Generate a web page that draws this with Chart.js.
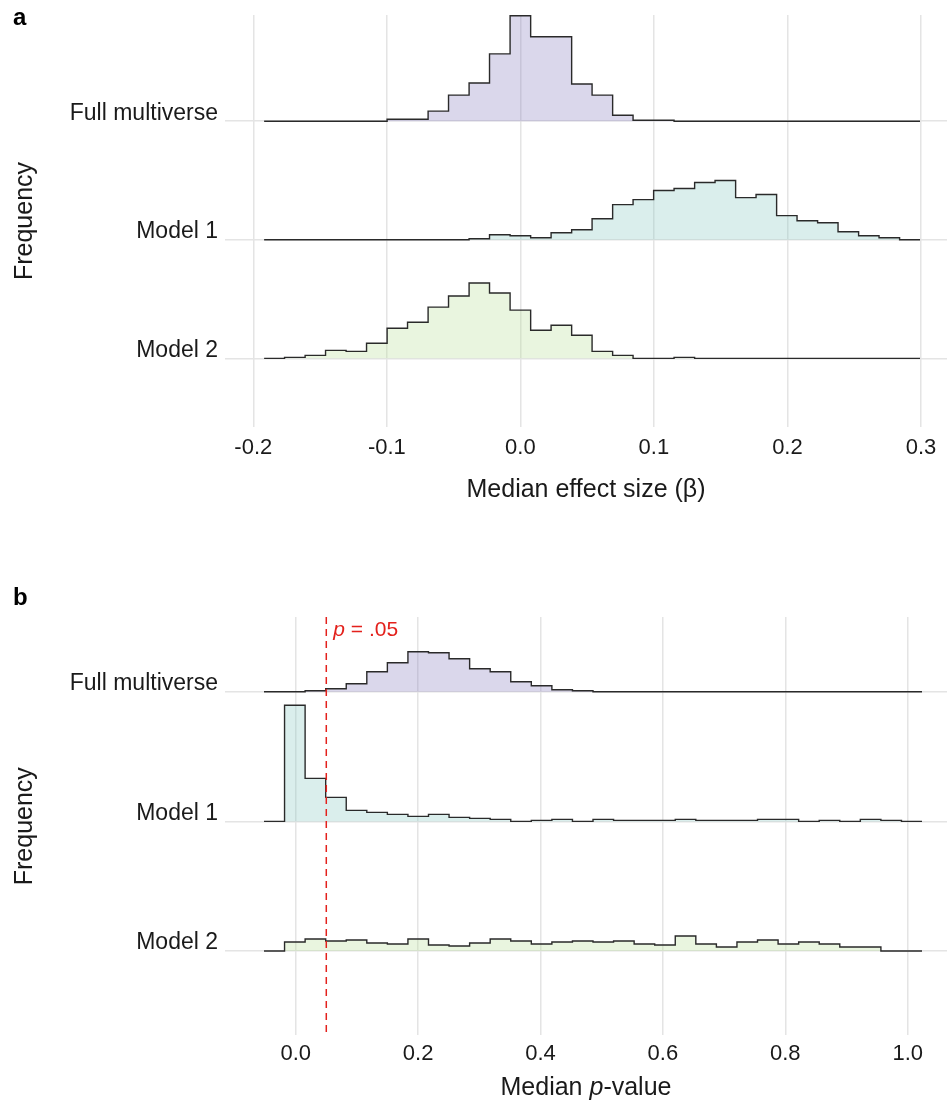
<!DOCTYPE html>
<html>
<head>
<meta charset="utf-8">
<script src="https://cdn.jsdelivr.net/npm/chart.js@4.4.1/dist/chart.umd.min.js"></script>
<style>
  html, body { margin: 0; padding: 0; background: #fff; }
  canvas { display: block; }
</style>
</head>
<body>
<canvas id="chart-a" width="947" height="530"></canvas>
<canvas id="chart-b" width="947" height="575"></canvas>
<script>
const groups = ['Full multiverse', 'Model 1', 'Model 2'];

// panel a - median effect size, bin edges + heights per group
const edgesA = [-0.1919, -0.1766, -0.1612, -0.1459, -0.1305, -0.1152, -0.0998, -0.0845,
  -0.0691, -0.0538, -0.0384, -0.0231, -0.0077, 0.0077, 0.0230, 0.0384, 0.0537, 0.0691,
  0.0844, 0.0998, 0.1151, 0.1305, 0.1458, 0.1612, 0.1765, 0.1919, 0.2072, 0.2226,
  0.2379, 0.2533, 0.2686, 0.2840, 0.2993];
const fullA = [0, 0, 0, 0, 0, 0, 2, 2, 10, 26, 38, 67, 105, 84, 84, 37, 26, 6, 1, 1, 0, 0, 0, 0, 0, 0, 0, 0, 0, 0, 0, 0];
const model1A = [0, 0, 0, 0, 0, 0, 0, 0, 0, 0, 1, 5, 4, 2, 7, 10, 21, 35, 40, 49, 51, 57, 59, 42, 45, 24, 19, 17, 8, 4, 2, 0];
const model2A = [0, 1, 3, 8, 7, 15, 30, 36, 51, 62, 75, 65, 48, 28, 33, 23, 7, 3, 0, 0, 1, 0, 0, 0, 0, 0, 0, 0, 0, 0, 0, 0];
const ticksA = [-0.2, -0.1, 0, 0.1, 0.2, 0.3];

// panel b - median p-value
const edgesB = [-0.0518, -0.0182, 0.0154, 0.0490, 0.0826, 0.1162, 0.1498, 0.1834, 0.2170,
  0.2506, 0.2842, 0.3178, 0.3514, 0.3850, 0.4186, 0.4522, 0.4858, 0.5194, 0.5530, 0.5866,
  0.6202, 0.6538, 0.6874, 0.7210, 0.7546, 0.7882, 0.8218, 0.8554, 0.8890, 0.9226,
  0.9562, 0.9898, 1.0234];
const fullB = [0, 0, 1, 3, 8, 20, 29, 40, 39, 33, 23, 20, 10, 6, 2, 1, 0, 0, 0, 0, 0, 0, 0, 0, 0, 0, 0, 0, 0, 0, 0, 0];
const model1B = [0, 116, 43, 24, 11, 9, 7, 5, 7, 4, 3, 2, 0, 1, 2, 0, 2, 1, 1, 1, 2, 1, 1, 1, 2, 2, 0, 1, 0, 2, 1, 0];
const model2B = [0, 9, 12, 10, 11, 8, 7, 12, 6, 5, 8, 12, 10, 7, 9, 10, 9, 10, 7, 6, 15, 7, 4, 9, 11, 7, 9, 7, 4, 4, 0, 0];
const ticksB = [0, 0.2, 0.4, 0.6, 0.8, 1.0];
const pCut = 0.05;

const FONT = '"Liberation Sans", Arial, Helvetica, sans-serif';
const fills = ['rgba(132,122,188,0.3)', 'rgba(132,198,192,0.3)', 'rgba(182,222,148,0.3)'];
const gridColor = '#e4e4e4';
const textColor = '#1a1a1a';

Chart.defaults.font.family = FONT;
Chart.defaults.color = textColor;

// outline of a histogram as corner points, lifted to its ridge baseline
function stepPoints(edges, counts, base) {
  const pts = [];
  counts.forEach((c, i) => {
    pts.push({ x: edges[i], y: base + c });
    pts.push({ x: edges[i + 1], y: base + c });
  });
  return pts;
}

function drawMixed(ctx, parts, x, y, size, align) {
  let total = 0;
  parts.forEach(p => {
    ctx.font = (p.italic ? 'italic ' : '') + size + 'px ' + FONT;
    p.w = ctx.measureText(p.t).width;
    total += p.w;
  });
  let cx = align === 'center' ? x - total / 2 : x;
  parts.forEach(p => {
    ctx.font = (p.italic ? 'italic ' : '') + size + 'px ' + FONT;
    ctx.fillText(p.t, cx, y);
    cx += p.w;
  });
}

const panelTag = {
  id: 'panelTag',
  afterDraw(chart, args, opts) {
    const ctx = chart.ctx;
    ctx.save();
    ctx.font = 'bold 24px ' + FONT;
    ctx.fillStyle = '#000';
    ctx.textBaseline = 'alphabetic';
    ctx.fillText(opts.text, opts.x, opts.y);
    ctx.restore();
  }
};

const cutLine = {
  id: 'cutLine',
  afterDatasetsDraw(chart, args, opts) {
    if (!opts.show) return;
    const { ctx, chartArea, scales } = chart;
    const px = scales.x.getPixelForValue(opts.value);
    ctx.save();
    ctx.strokeStyle = '#e3211c';
    ctx.lineWidth = 1.5;
    ctx.setLineDash([7, 5]);
    ctx.beginPath();
    ctx.moveTo(px, chartArea.top);
    ctx.lineTo(px, chartArea.bottom);
    ctx.stroke();
    ctx.setLineDash([]);
    ctx.fillStyle = '#e3211c';
    ctx.textBaseline = 'alphabetic';
    drawMixed(ctx, [{ t: 'p', italic: true }, { t: ' = .05' }], px + 7, opts.labelY, 21, 'left');
    ctx.restore();
  }
};

const pTitle = {
  id: 'pTitle',
  afterDraw(chart, args, opts) {
    if (!opts.show) return;
    const { ctx, chartArea } = chart;
    ctx.save();
    ctx.fillStyle = textColor;
    ctx.textBaseline = 'middle';
    drawMixed(ctx, [{ t: 'Median ' }, { t: 'p', italic: true }, { t: '-value' }],
      (chartArea.left + chartArea.right) / 2, opts.y, 25, 'center');
    ctx.restore();
  }
};

function makeRidge(el, cfg) {
  const rows = [cfg.full, cfg.m1, cfg.m2];
  const datasets = rows.map((counts, i) => {
    const base = (2 - i) * cfg.rowStep;
    return {
      label: groups[i],
      data: stepPoints(cfg.edges, counts, base),
      borderColor: '#2a2a2a',
      borderWidth: 1.4,
      backgroundColor: fills[i],
      fill: { value: base },
      pointRadius: 0,
      tension: 0,
      order: 3 - i,
    };
  });

  return new Chart(el, {
    type: 'line',
    data: { datasets },
    plugins: [panelTag, cutLine, pTitle],
    options: {
      responsive: false,
      animation: false,
      layout: { padding: { left: 0, right: 0, top: cfg.padTop, bottom: cfg.padBottom } },
      plugins: {
        legend: { display: false },
        tooltip: { enabled: false },
        panelTag: cfg.tag,
        cutLine: cfg.cut,
        pTitle: cfg.pTitle,
      },
      scales: {
        x: {
          type: 'linear',
          min: cfg.xMin,
          max: cfg.xMax,
          afterBuildTicks: s => { s.ticks = cfg.ticks.map(v => ({ value: v })); },
          afterFit: s => { s.paddingLeft = 0; s.paddingRight = 0; },
          border: { display: false },
          grid: { color: gridColor, lineWidth: 1.5, drawTicks: false },
          ticks: {
            padding: cfg.tickPad,
            font: { size: 22 },
            color: textColor,
            callback: v => (Math.abs(v) < 1e-9 ? 0 : v).toFixed(1),
          },
          title: cfg.xTitle,
        },
        y: {
          type: 'linear',
          min: cfg.yMin,
          max: cfg.yMax,
          afterBuildTicks: s => { s.ticks = [0, 1, 2].map(k => ({ value: k * cfg.rowStep })); },
          afterFit: s => { s.width = 225; s.paddingTop = 0; s.paddingBottom = 0; },
          border: { display: false },
          grid: { color: gridColor, lineWidth: 1.5, drawTicks: false },
          ticks: {
            padding: 7,
            labelOffset: -8,
            font: { size: 23 },
            color: textColor,
            callback: v => groups[2 - Math.round(v / cfg.rowStep)],
          },
          title: { display: true, text: 'Frequency', font: { size: 25 }, color: textColor, padding: { top: 10, bottom: 0 } },
        },
      },
    },
  });
}

makeRidge(document.getElementById('chart-a'), {
  edges: edgesA, full: fullA, m1: model1A, m2: model2A, ticks: ticksA,
  rowStep: 118, xMin: -0.2212, xMax: 0.3195, yMin: -68.3, yMax: 341.7,
  padTop: 15, padBottom: 24.6, tickPad: 8,
  xTitle: { display: true, text: 'Median effect size (β)', font: { size: 25 }, color: textColor, padding: { top: 6, bottom: 0 } },
  tag: { text: 'a', x: 13, y: 25 },
  cut: { show: false },
  pTitle: { show: false },
});

makeRidge(document.getElementById('chart-b'), {
  edges: edgesB, full: fullB, m1: model1B, m2: model2B, ticks: ticksB,
  rowStep: 129.5, xMin: -0.1155, xMax: 1.0642, yMin: -84.3, yMax: 333.7,
  padTop: 87, padBottom: 33.2, tickPad: 5,
  xTitle: { display: false },
  tag: { text: 'b', x: 13, y: 75 },
  cut: { show: true, value: pCut, labelY: 106 },
  pTitle: { show: true, y: 558 },
});
</script>
</body>
</html>
